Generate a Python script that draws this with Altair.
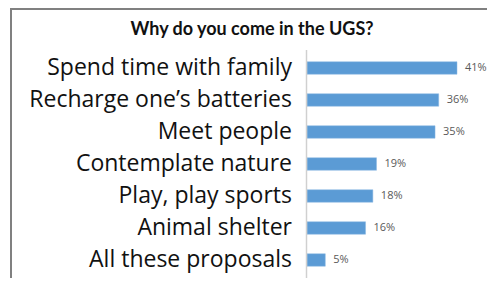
import altair as alt
import pandas as pd

categories = [
    "Spend time with family",
    "Recharge one\u2019s batteries",
    "Meet people",
    "Contemplate nature",
    "Play, play sports",
    "Animal shelter",
    "All these proposals",
]
values = [41, 36, 35, 19, 18, 16, 5]
title_text = "Why do you come in the UGS?"

df = pd.DataFrame({"category": categories, "value": values})
df["label"] = [f"{v}%" for v in values]

W, H = 476, 270

y_scale = alt.Scale(domain=categories, range=[44, 268], paddingInner=0.61, paddingOuter=0.305)
x_scale = alt.Scale(domain=[0, 41], range=[296, 446])

base = alt.Chart(df)

bars = base.mark_bar(color="#5B9BD5", stroke="#8db8e2", strokeWidth=0.5).encode(
    y=alt.Y("category:N", scale=y_scale, sort=None, axis=None),
    x=alt.X("value:Q", scale=x_scale, axis=None),
)

pct = base.mark_text(align="left", baseline="middle", dx=8, font="Open Sans",
                     fontSize=11, color="#595959").encode(
    y=alt.Y("category:N", scale=y_scale, sort=None, axis=None),
    x=alt.X("value:Q", scale=x_scale, axis=None),
    text="label:N",
)

cats = base.mark_text(align="right", baseline="middle", font="Open Sans", fontSize=23,
                      color="#111111").encode(
    y=alt.Y("category:N", scale=y_scale, sort=None, axis=None),
    x=alt.value(281),
    text="category:N",
)

axis_line = alt.Chart(pd.DataFrame({"a": [0]})).mark_rule(color="#d0d0d0", strokeWidth=1.5).encode(
    x=alt.value(295.5), y=alt.value(42), y2=alt.value(270)
)

left_border = alt.Chart(pd.DataFrame({"a": [0]})).mark_rule(color="#808080", strokeWidth=2).encode(
    x=alt.value(0), y=alt.value(0), y2=alt.value(H)
)
top_border = alt.Chart(pd.DataFrame({"a": [0]})).mark_rule(color="#808080", strokeWidth=2).encode(
    x=alt.value(0), x2=alt.value(W), y=alt.value(1)
)

title = alt.Chart(pd.DataFrame({"t": [title_text]})).mark_text(
    align="center", baseline="alphabetic", font="Lato", fontSize=18, fontWeight="bold",
    color="#111111"
).encode(x=alt.value(241), y=alt.value(27), text="t:N")

chart = alt.layer(bars, pct, cats, axis_line, left_border, top_border, title).properties(
    width=W, height=H,
    padding={"left": 3, "top": 0, "right": 0, "bottom": 0},
    autosize=alt.AutoSizeParams(type="none"),
).configure_view(stroke=None).configure(background="white")

chart.save("out.html", embed_options={"renderer": "svg", "actions": False})
